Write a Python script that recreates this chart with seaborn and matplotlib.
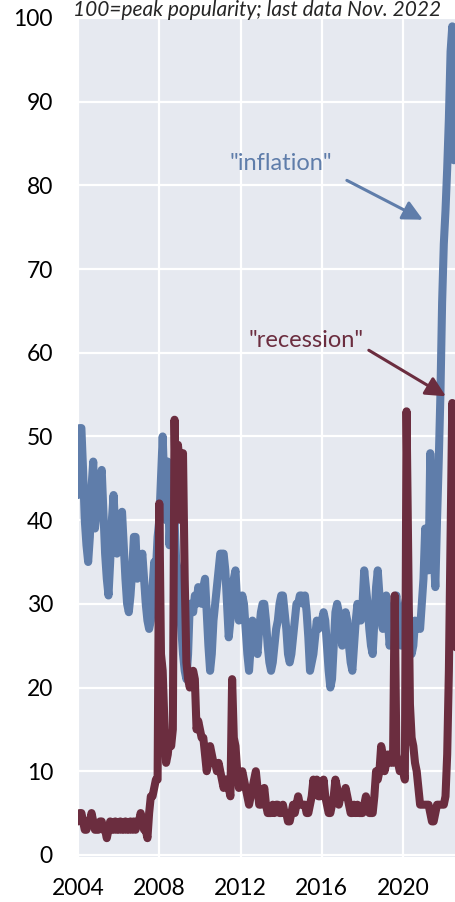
import numpy as np
import pandas as pd
import matplotlib
matplotlib.use("Agg")
import matplotlib.pyplot as plt
import seaborn as sns

# Google Trends, monthly Jan 2004 - Nov 2022 (100 = peak popularity)
inflation = [
    43, 51, 51, 46, 40, 37, 35, 38, 44, 47, 39, 41,   # 2004
    43, 45, 46, 41, 36, 33, 31, 35, 40, 43, 39, 36,   # 2005
    38, 40, 41, 37, 33, 30, 29, 31, 34, 38, 38, 33,   # 2006
    34, 35, 36, 33, 30, 28, 27, 28, 32, 35, 34, 38,   # 2007
    40, 45, 50, 44, 40, 47, 37, 42, 38, 40, 35, 34,   # 2008
    30, 27, 24, 22, 21, 24, 30, 30, 29, 31, 30, 32,   # 2009
    31, 30, 32, 33, 29, 25, 22, 24, 28, 30, 32, 34,   # 2010
    36, 36, 36, 34, 30, 26, 28, 31, 33, 34, 30, 28,   # 2011
    29, 31, 30, 27, 24, 22, 25, 28, 27, 25, 24, 27,   # 2012
    29, 30, 30, 28, 25, 23, 22, 23, 25, 27, 28, 30,   # 2013
    31, 31, 29, 27, 24, 23, 24, 26, 28, 30, 30, 31,   # 2014
    31, 30, 31, 29, 26, 22, 23, 24, 26, 28, 27, 28,   # 2015
    28, 29, 28, 25, 22, 20, 21, 25, 29, 30, 29, 27,   # 2016
    25, 27, 29, 28, 25, 23, 22, 25, 28, 30, 29, 28,   # 2017
    30, 34, 32, 30, 27, 25, 24, 28, 32, 34, 31, 28,   # 2018
    27, 29, 31, 28, 25, 27, 29, 30, 31, 28, 26, 25,   # 2019
    28, 30, 31, 29, 27, 24, 25, 28, 27, 28, 27, 30,   # 2020
    33, 39, 35, 34, 48, 42, 36, 32, 40, 47, 55, 66,   # 2021
    73, 77, 82, 88, 96, 99, 83, 84, 85, 80, 79,       # 2022
]
recession = [
    4, 5, 5, 4, 3, 3, 4, 4, 5, 4, 3, 3,
    3, 4, 4, 3, 3, 2, 3, 4, 3, 3, 4, 3,
    3, 4, 3, 3, 4, 3, 3, 4, 3, 4, 3, 4,
    4, 5, 4, 3, 3, 2, 5, 7, 7, 8, 9, 9,
    42, 24, 22, 16, 11, 12, 14, 13, 15, 52, 40, 49,
    47, 40, 48, 33, 23, 21, 20, 21, 22, 21, 15, 16,
    15, 14, 14, 12, 10, 11, 13, 12, 11, 11, 10, 11,
    10, 9, 8, 9, 9, 8, 7, 21, 14, 13, 10, 8,
    9, 10, 9, 8, 7, 6, 7, 8, 9, 10, 8, 6,
    6, 7, 8, 6, 5, 5, 5, 6, 5, 6, 6, 5,
    5, 6, 5, 5, 4, 4, 5, 6, 5, 6, 7, 6,
    6, 6, 6, 5, 5, 6, 7, 9, 8, 9, 7, 7,
    8, 9, 7, 6, 5, 5, 6, 7, 9, 8, 6, 7,
    7, 7, 8, 7, 6, 5, 5, 6, 5, 6, 5, 5,
    5, 6, 7, 6, 5, 5, 5, 7, 10, 9, 10, 13,
    12, 10, 11, 12, 11, 12, 11, 31, 12, 11, 10, 10,
    10, 9, 53, 35, 18, 14, 13, 11, 10, 8, 6, 6,
    6, 6, 6, 6, 5, 4, 4, 5, 6, 6, 6, 6,
    6, 7, 12, 22, 38, 54, 35, 25, 24, 25, 22,
]
year_ticks = [2004, 2008, 2012, 2016, 2020]
value_ticks = list(range(0, 101, 10))

df = pd.DataFrame({
    "year": 2004 + np.arange(len(inflation)) / 12,
    "inflation": inflation,
    "recession": recession,
})

blue = "#5f7daa"
maroon = "#6b2d3f"

sns.set_theme(style="darkgrid", rc={"axes.facecolor": "#e6e9f0",
                                    "grid.color": "white",
                                    "grid.linewidth": 1.6})
plt.rcParams["font.family"] = ["Lato", "DejaVu Sans"]

fig = plt.figure(figsize=(4.56, 9.02), dpi=100)
ax = fig.add_axes([78 / 456, 45 / 902, 1 - 78 / 456, 839 / 902])

sns.lineplot(data=df, x="year", y="inflation", color=blue, lw=5.8, ax=ax,
             solid_capstyle="round", solid_joinstyle="round")
sns.lineplot(data=df, x="year", y="recession", color=maroon, lw=5.8, ax=ax,
             solid_capstyle="round", solid_joinstyle="round")

ax.set_xlim(2004, 2022.6)
ax.set_ylim(-0.25, 100)
ax.set_xticks(year_ticks)
ax.set_yticks(value_ticks)
ax.set_xlabel("")
ax.set_ylabel("")
ax.tick_params(axis="x", labelsize=16.5, pad=15, length=0, colors="black")
ax.tick_params(axis="y", labelsize=16.5, pad=18, length=0, colors="black")
for s in ax.spines.values():
    s.set_visible(False)

# labels + arrows
ax.text(2013.99, 82.6, '"inflation"', color=blue, fontsize=17,
        ha="center", va="center")
ax.annotate("", xy=(2020.97, 75.9), xytext=(2017.23, 80.6),
            arrowprops=dict(arrowstyle="-|>,head_length=0.6,head_width=0.3",
                            color=blue, lw=2.2, mutation_scale=20,
                            shrinkA=0, shrinkB=0))
ax.text(2015.21, 61.5, '"recession"', color=maroon, fontsize=17,
        ha="center", va="center")
ax.annotate("", xy=(2022.10, 54.8), xytext=(2018.31, 60.3),
            arrowprops=dict(arrowstyle="-|>,head_length=0.6,head_width=0.3",
                            color=maroon, lw=2.2, mutation_scale=20,
                            shrinkA=0, shrinkB=0))

fig.text(73 / 456, 1 - 16 / 902, "100=peak popularity; last data Nov. 2022",
         style="italic", fontsize=15, ha="left", va="baseline")

fig.savefig("out.png", dpi=100)
